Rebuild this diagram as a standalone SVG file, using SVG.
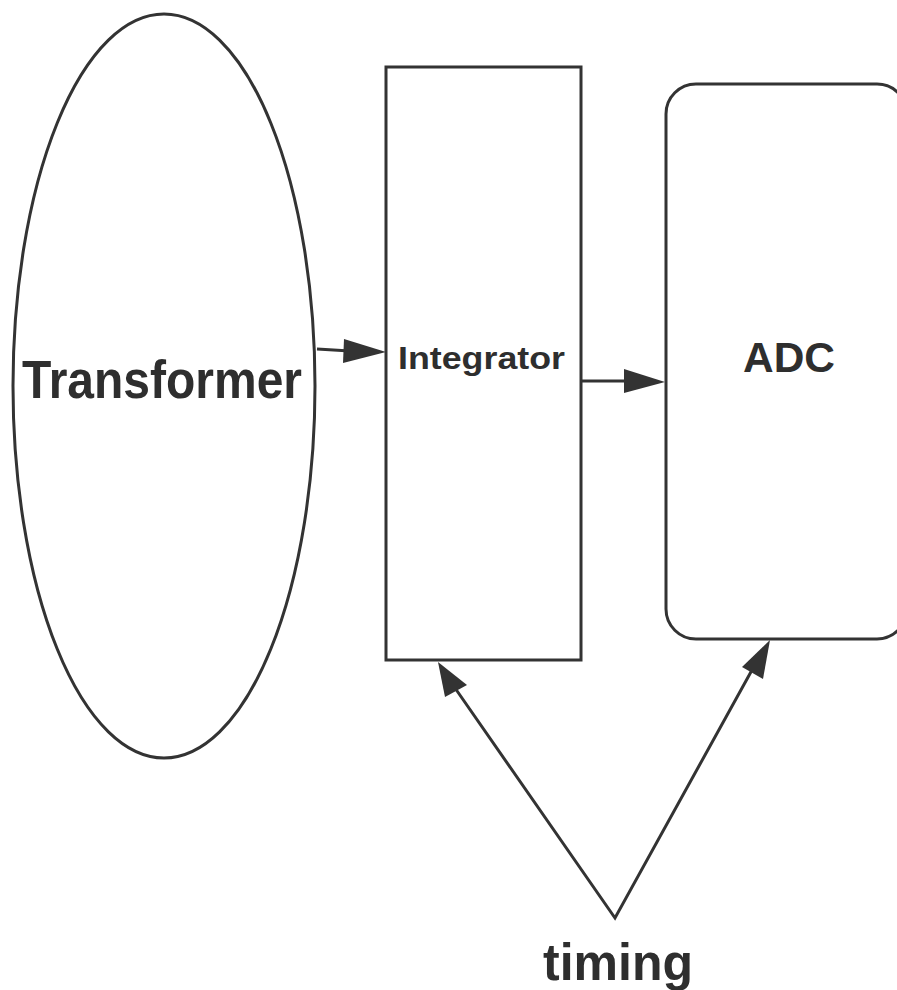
<svg xmlns="http://www.w3.org/2000/svg" width="897" height="990" viewBox="0 0 897 990">
  <style>
    .shape { fill: none; stroke: #333; stroke-width: 3; }
    .wire { fill: none; stroke: #333; stroke-width: 3; }
    .head { fill: #333; stroke: none; }
    .label { font-family: "Liberation Sans", Arial, Helvetica, sans-serif; font-weight: bold; fill: #2e2e2e; }
  </style>
  <rect width="897" height="990" fill="#fff"/>

  <g id="transformer">
    <ellipse class="shape" cx="164" cy="386" rx="151" ry="372"/>
    <text class="label" x="22" y="398" font-size="54" textLength="280" lengthAdjust="spacingAndGlyphs">Transformer</text>
  </g>

  <g id="integrator">
    <rect class="shape" x="386" y="67" width="195" height="593"/>
    <text class="label" x="398" y="369" font-size="32" textLength="167" lengthAdjust="spacingAndGlyphs">Integrator</text>
  </g>

  <g id="adc">
    <rect class="shape" x="666" y="84" width="241" height="555" rx="30" ry="30"/>
    <text class="label" x="743" y="372" font-size="42" textLength="92" lengthAdjust="spacingAndGlyphs">ADC</text>
  </g>

  <g id="timing">
    <text class="label" x="543" y="980" font-size="52" textLength="150" lengthAdjust="spacingAndGlyphs">timing</text>
  </g>

  <g id="connectors">
    <line class="wire" x1="317" y1="349" x2="350" y2="351"/>
    <polygon class="head" points="386,352 344,339 343,363"/>

    <line class="wire" x1="582" y1="381" x2="630" y2="381"/>
    <polygon class="head" points="665,382 624,369 624,393"/>

    <polyline class="wire" points="455,688 615,918 752,670"/>
    <polygon class="head" points="438,662 445,697 467,685"/>
    <polygon class="head" points="770,640 742,667 763,679"/>
  </g>
</svg>
